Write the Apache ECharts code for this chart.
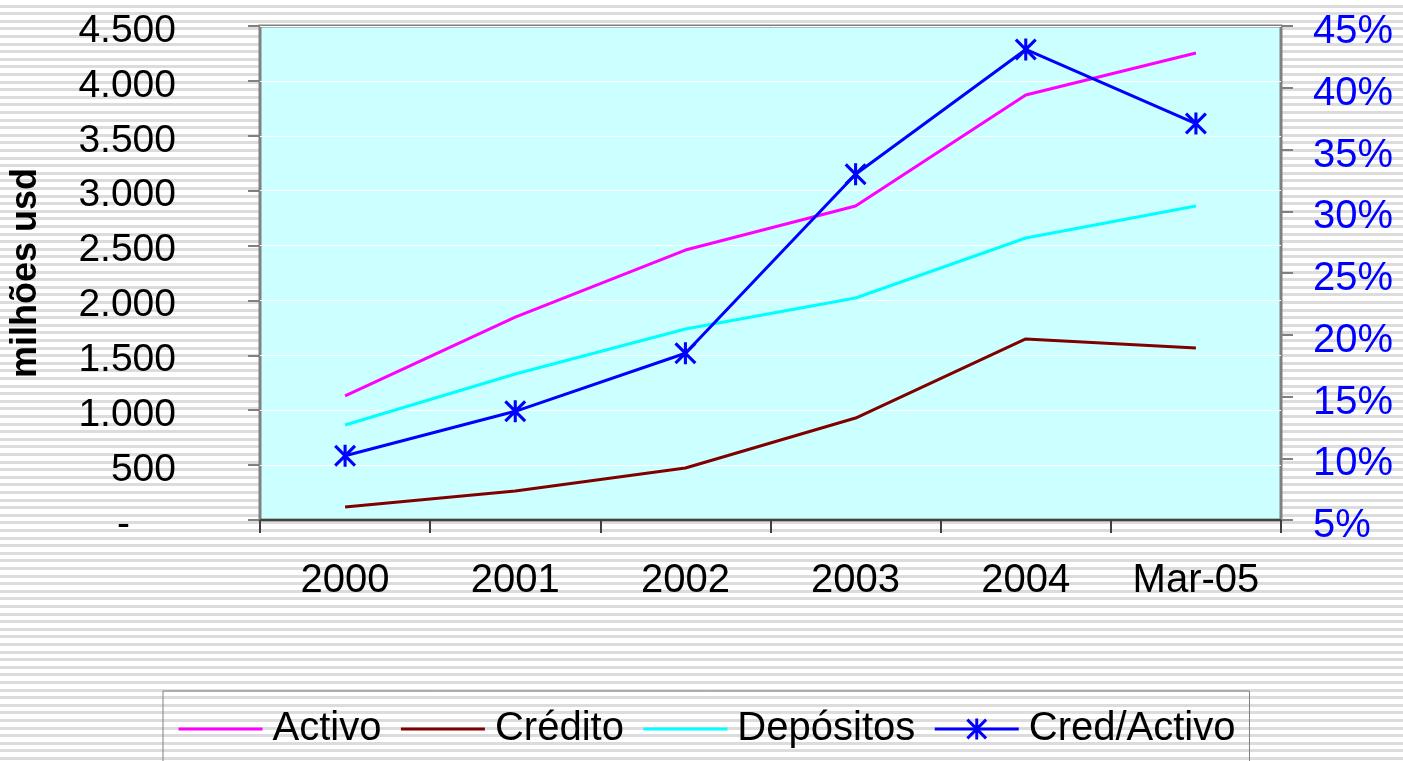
<!DOCTYPE html>
<html>
<head>
<meta charset="utf-8">
<script src="https://cdn.jsdelivr.net/npm/echarts@6/dist/echarts.min.js"></script>
<style>
html, body { margin: 0; padding: 0; }
#chart {
    width: 1403px; height: 761px;
    background: repeating-linear-gradient(to bottom, #ffffff 0px, #ffffff 4.6px, #dcdcdc 4.6px, #dcdcdc 7.6px);
}
</style>
</head>
<body>
<div id="chart"></div>
<script>
// categorias e valores
var categories = ['2000', '2001', '2002', '2003', '2004', 'Mar-05'];
var activo = [1130, 1849, 2459, 2860, 3871, 4254];
var credito = [118, 264, 474, 929, 1649, 1567];
var depositos = [865, 1330, 1740, 2022, 2569, 2860];
var credActivo = [10.2, 13.8, 18.5, 33.0, 43.1, 37.1];

var leftTicks = { min: 0, max: 4500, interval: 500 };
var rightTicks = { min: 5, max: 45, interval: 5 };

// asterisco (vertical + X)
var asterisk = 'path://M8.6,0L11.4,0L11.4,20L8.6,20Z M0,2L2,0L20,18L18,20Z M18,0L20,2L2,20L0,18Z';

var fmtThousands = function (v) {
    if (v === 0) return '{dash|-}';
    return '{n|' + String(v).replace(/\B(?=(\d{3})+(?!\d))/g, '.') + '}';
};
var fmtPct = function (v) {
    return '{p|' + v + '%}';
};

// linha sem marcador (o marcador transparente some na legenda)
var plainLine = function (name, data, color) {
    return {
        name: name, type: 'line', data: data,
        symbol: 'circle', showSymbol: false,
        lineStyle: { color: color, width: 3 },
        itemStyle: { color: 'transparent', borderWidth: 0, borderColor: 'transparent' }
    };
};

var myChart = echarts.init(document.getElementById('chart'));

var option = {
    backgroundColor: 'transparent',
    animation: false,
    textStyle: { fontFamily: 'Liberation Sans, Arial, sans-serif' },
    grid: {
        left: 260, right: 122, top: 26, bottom: 241,
        show: true,
        backgroundColor: '#CCFFFF',
        borderColor: '#808080',
        borderWidth: 3
    },
    legend: {
        left: 163, top: 691,
        padding: [18, 14, 30, 14],
        borderColor: '#808080', borderWidth: 1,
        itemWidth: 84, itemHeight: 26, itemGap: 18,
        lineStyle: { width: 3 },
        textStyle: { fontSize: 40, color: '#000', padding: [0, 0, 0, 5] },
        data: ['Activo', 'Crédito', 'Depósitos', 'Cred/Activo']
    },
    xAxis: {
        type: 'category',
        data: categories,
        boundaryGap: true,
        axisLine: { lineStyle: { color: '#404040', width: 2 } },
        axisTick: { show: true, length: 13, lineStyle: { color: '#404040', width: 2 } },
        axisLabel: { fontSize: 40, color: '#000', margin: 41 }
    },
    yAxis: [{
        type: 'value',
        min: leftTicks.min, max: leftTicks.max, interval: leftTicks.interval,
        name: 'milhões usd',
        nameLocation: 'middle',
        nameGap: 216,
        nameRotate: 90,
        nameTextStyle: { fontSize: 36, fontWeight: 'bold', color: '#000' },
        axisLine: { show: false },
        axisTick: { show: true, length: 12, lineStyle: { color: '#808080', width: 2 } },
        splitLine: { show: true, lineStyle: { color: '#FFFFFF', width: 1 } },
        axisLabel: {
            color: '#000', margin: 84,
            formatter: fmtThousands,
            rich: {
                n: { fontSize: 39, color: '#000', padding: [10, 0, 0, 0] },
                dash: { fontSize: 39, color: '#000', padding: [10, 46, 0, 0] }
            }
        }
    }, {
        type: 'value',
        position: 'right',
        min: rightTicks.min, max: rightTicks.max, interval: rightTicks.interval,
        axisLine: { show: false },
        axisTick: { show: true, length: 12, lineStyle: { color: '#808080', width: 2 } },
        splitLine: { show: false },
        axisLabel: {
            color: '#0000FF', margin: 32,
            formatter: fmtPct,
            rich: { p: { fontSize: 40, color: '#0000FF', padding: [12, 0, 0, 0] } }
        }
    }],
    series: [
        plainLine('Activo', activo, '#FF00FF'),
        plainLine('Crédito', credito, '#800000'),
        plainLine('Depósitos', depositos, '#00FFFF'),
        {
            name: 'Cred/Activo', type: 'line', data: credActivo, yAxisIndex: 1,
            symbol: asterisk, symbolSize: 22, showAllSymbol: true,
            lineStyle: { color: '#0000FF', width: 3 }, itemStyle: { color: '#0000FF' }
        }
    ]
};

myChart.setOption(option);
</script>
</body>
</html>
